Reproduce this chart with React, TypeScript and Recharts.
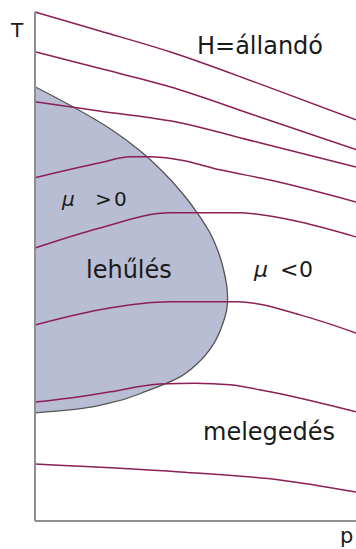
import { Area, ComposedChart, Line, ReferenceLine, XAxis, YAxis } from "recharts";

// Isenthalps, T as a function of p (arbitrary units, p 0..10, T 0..16)
const isenthalp1 = [
  { p: 0, T: 16.0 },
  { p: 2, T: 15.41 },
  { p: 4.2, T: 14.75 },
  { p: 7, T: 13.74 },
  { p: 10, T: 12.61 },
];
const isenthalp2 = [
  { p: 0, T: 14.75 },
  { p: 2, T: 14.23 },
  { p: 4.2, T: 13.65 },
  { p: 7, T: 12.7 },
  { p: 10, T: 11.68 },
];
const isenthalp3 = [
  { p: 0, T: 13.18 },
  { p: 2, T: 12.89 },
  { p: 4.2, T: 12.58 },
  { p: 7, T: 11.89 },
  { p: 10, T: 11.13 },
];
const isenthalp4 = [
  { p: 0, T: 10.79 },
  { p: 2.02, T: 11.26 },
  { p: 2.96, T: 11.45 },
  { p: 3.58, T: 11.45 },
  { p: 4.52, T: 11.35 },
  { p: 5.76, T: 11.04 },
  { p: 7.32, T: 10.72 },
  { p: 10, T: 10.03 },
];
const isenthalp5 = [
  { p: 0, T: 8.58 },
  { p: 2.02, T: 9.21 },
  { p: 4.21, T: 9.69 },
  { p: 6.29, T: 9.69 },
  { p: 8.26, T: 9.4 },
  { p: 10, T: 8.93 },
];
const isenthalp6 = [
  { p: 0, T: 6.16 },
  { p: 2.02, T: 6.64 },
  { p: 4.21, T: 6.89 },
  { p: 6.29, T: 6.89 },
  { p: 8.26, T: 6.48 },
  { p: 10, T: 5.91 },
];
const isenthalp7 = [
  { p: 0, T: 3.74 },
  { p: 1.1, T: 3.87 },
  { p: 2.34, T: 4.06 },
  { p: 3.89, T: 4.31 },
  { p: 5.0, T: 4.33 },
  { p: 6.07, T: 4.28 },
  { p: 7.32, T: 4.06 },
  { p: 10, T: 3.43 },
];
const isenthalp8 = [
  { p: 0, T: 1.79 },
  { p: 4.52, T: 1.54 },
  { p: 7.63, T: 1.29 },
  { p: 10, T: 0.91 },
];

const isenthalps = [
  isenthalp1,
  isenthalp2,
  isenthalp3,
  isenthalp4,
  isenthalp5,
  isenthalp6,
  isenthalp7,
  isenthalp8,
];

// Inversion curve, p as a function of T (bottom to top)
const inversionCurve = [
  { T: 3.4, p: 0 },
  { T: 3.49, p: 1.09 },
  { T: 3.71, p: 2.34 },
  { T: 4.09, p: 3.49 },
  { T: 4.53, p: 4.52 },
  { T: 4.94, p: 5.05 },
  { T: 5.53, p: 5.54 },
  { T: 6.23, p: 5.86 },
  { T: 6.7, p: 5.98 },
  { T: 7.01, p: 6.0 },
  { T: 7.41, p: 5.97 },
  { T: 7.96, p: 5.86 },
  { T: 8.49, p: 5.7 },
  { T: 9.06, p: 5.45 },
  { T: 9.65, p: 5.08 },
  { T: 10.28, p: 4.61 },
  { T: 10.97, p: 3.99 },
  { T: 11.64, p: 3.27 },
  { T: 12.33, p: 2.34 },
  { T: 13.02, p: 1.18 },
  { T: 13.65, p: 0 },
];

const axisStyle = { stroke: "#8e8e8e", strokeWidth: 2 };
const lineColor = "#8b1f56";
const font = "'DejaVu Sans', Verdana, sans-serif";

export default function App() {
  const first = inversionCurve[0];
  const last = inversionCurve[inversionCurve.length - 1];
  return (
    <div style={{ position: "absolute", left: 0, top: 0, width: 356, height: 549, background: "#fff" }}>
      <ComposedChart
        layout="vertical"
        width={356}
        height={549}
        margin={{ top: 12, right: 0, bottom: 0, left: 0 }}
      >
        <XAxis
          type="number"
          dataKey="p"
          domain={[0, 10]}
          height={28}
          tick={false}
          tickLine={false}
          axisLine={axisStyle}
        />
        <YAxis
          type="number"
          dataKey="T"
          domain={[0, 16]}
          width={35}
          reversed
          tick={false}
          tickLine={false}
          axisLine={axisStyle}
        />
        <Area
          data={inversionCurve}
          dataKey="p"
          type="monotoneY"
          fill="#b9bdd3"
          fillOpacity={1}
          stroke="#555"
          strokeWidth={1.3}
          isAnimationActive={false}
        />
        <ReferenceLine
          segment={[
            { x: 0, y: first.T },
            { x: 0, y: last.T },
          ]}
          stroke="#555"
          strokeWidth={2}
        />
        {isenthalps.map((d, i) => (
          <Line
            key={i}
            data={d}
            dataKey="p"
            type="monotoneX"
            stroke={lineColor}
            strokeWidth={1.5}
            dot={false}
            activeDot={false}
            isAnimationActive={false}
          />
        ))}
      </ComposedChart>
      <svg
        width={356}
        height={549}
        style={{ position: "absolute", left: 0, top: 0, pointerEvents: "none" }}
        fontFamily={font}
        fill="#1a1a1a"
      >
        <text x={11} y={37} fontSize={20}>T</text>
        <text x={340} y={543} fontSize={21}>p</text>
        <text x={197} y={54} fontSize={24}>H=állandó</text>
        <text x={86} y={278} fontSize={24}>lehűlés</text>
        <text x={203} y={440} fontSize={24}>melegedés</text>
        <text y={206} fontSize={20}>
          <tspan x={62} fontStyle="italic">μ</tspan>
          <tspan x={95}>&gt;</tspan>
          <tspan x={114}>0</tspan>
        </text>
        <text y={277} fontSize={22}>
          <tspan x={254} fontStyle="italic">μ</tspan>
          <tspan x={280}>&lt;</tspan>
          <tspan x={299}>0</tspan>
        </text>
      </svg>
    </div>
  );
}
